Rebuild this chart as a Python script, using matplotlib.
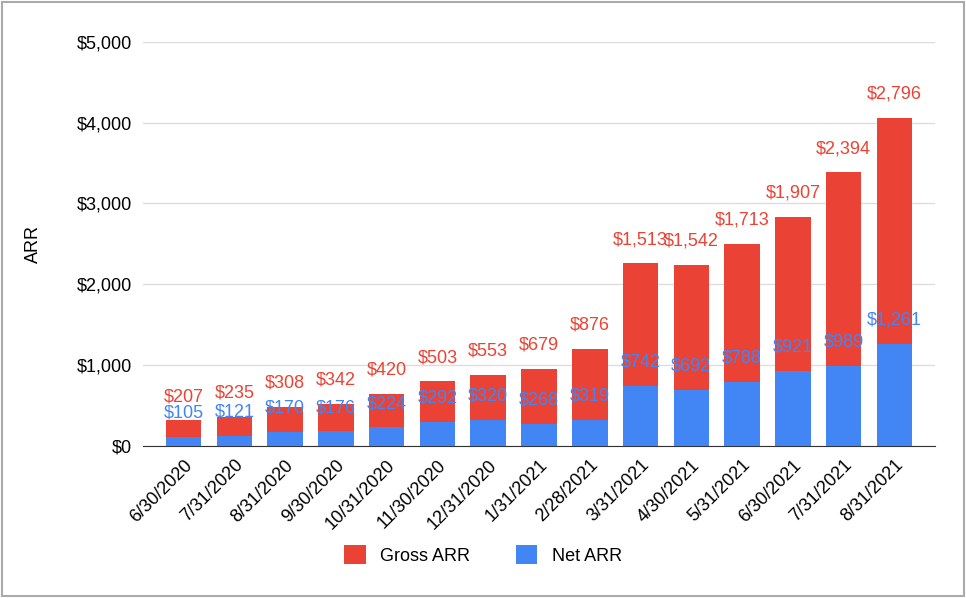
import matplotlib.pyplot as plt
from matplotlib.patches import Rectangle

plt.rcParams['font.family'] = ['Liberation Sans', 'DejaVu Sans']

dates = ['6/30/2020', '7/31/2020', '8/31/2020', '9/30/2020', '10/31/2020', '11/30/2020',
         '12/31/2020', '1/31/2021', '2/28/2021', '3/31/2021', '4/30/2021', '5/31/2021',
         '6/30/2021', '7/31/2021', '8/31/2021']
net_arr = [105, 121, 170, 176, 224, 292, 320, 268, 319, 742, 692, 788, 921, 989, 1261]
gross_arr = [207, 235, 308, 342, 420, 503, 553, 679, 876, 1513, 1542, 1713, 1907, 2394, 2796]

red = '#EA4335'
blue = '#4285F4'

fig = plt.figure(figsize=(9.66, 5.98), dpi=100)
ax = fig.add_axes([0.148, 0.255, 0.82, 0.675])

x = range(len(dates))
ax.bar(x, net_arr, width=0.7, color=blue, label='Net ARR', zorder=3)
ax.bar(x, gross_arr, width=0.7, bottom=net_arr, color=red, label='Gross ARR', zorder=3)

for i in x:
    ax.annotate(f'${gross_arr[i]:,}', (i, net_arr[i] + gross_arr[i]), xytext=(0, 11),
                textcoords='offset points', ha='center', va='bottom', color=red, fontsize=13, zorder=4)
    ax.annotate(f'${net_arr[i]:,}', (i, net_arr[i]), xytext=(0, 11),
                textcoords='offset points', ha='center', va='bottom', color=blue, fontsize=13, zorder=4)

ax.set_ylim(0, 5000)
ax.set_xlim(-0.8, len(dates) - 0.2)
ax.set_yticks(range(0, 5001, 1000))
ax.set_yticklabels([f'${v:,}' for v in range(0, 5001, 1000)], fontsize=13)
ax.set_xticks(list(x))
ax.set_xticklabels(dates, rotation=45, ha='right', rotation_mode='anchor', fontsize=13)
ax.set_ylabel('ARR', fontsize=13, labelpad=25)
ax.grid(axis='y', color='#dddddd', linewidth=1, zorder=0)
ax.tick_params(length=0, pad=8)
for s in ['top', 'right', 'left']:
    ax.spines[s].set_visible(False)
ax.spines['bottom'].set_color('#333333')

h, l = ax.get_legend_handles_labels()
fig.legend(h[::-1], l[::-1], loc='center', bbox_to_anchor=(0.5, 0.072), ncol=2, frameon=False,
           fontsize=13, handlelength=1.2, handleheight=1.2, columnspacing=2.5)

fig.add_artist(Rectangle((0.002, 0.003), 0.996, 0.994, transform=fig.transFigure,
                         fill=False, edgecolor='#aaaaaa', linewidth=1.5))

fig.savefig('out.png', dpi=100)
